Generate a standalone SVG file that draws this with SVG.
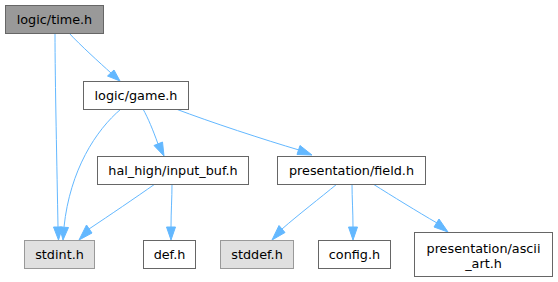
<svg xmlns="http://www.w3.org/2000/svg" width="558" height="282" viewBox="0 0 558 282">
<style>
  .box { fill: #ffffff; stroke: #666666; stroke-width: 1; }
  .root { fill: #999999; stroke: #666666; stroke-width: 1; }
  .sys { fill: #e0e0e0; stroke: #999999; stroke-width: 1; }
  text { font-family: "DejaVu Sans", sans-serif; font-size: 12.8px; fill: #000000; text-anchor: middle; }
  .edge { fill: none; stroke: #63b8ff; stroke-width: 1; }
  .head { fill: #63b8ff; stroke: #63b8ff; stroke-width: 1; }
</style>
<rect width="558" height="282" fill="#ffffff"/>

<g id="edges">
  <!-- logic/time.h -> stdint.h -->
  <path class="edge" d="M55,33 C55,80 57,170 58,227"/>
  <polygon class="head" points="53.5,227 58.5,240 62.5,227"/>
  <!-- logic/time.h -> logic/game.h -->
  <path class="edge" d="M69,33 C80,45 100,63 111,73"/>
  <polygon class="head" points="107.5,76 120,81 114,70"/>
  <!-- logic/game.h -> stdint.h -->
  <path class="edge" d="M121,109 C96,130 70,170 64,227"/>
  <polygon class="head" points="59.5,227 63,240 68.5,227.5"/>
  <!-- logic/game.h -> hal_high/input_buf.h -->
  <path class="edge" d="M143,109 C148,118 153,130 158,144"/>
  <polygon class="head" points="154,145.5 164,156 162.5,142"/>
  <!-- logic/game.h -> presentation/field.h -->
  <path class="edge" d="M176,109 C210,122 265,140 299,150"/>
  <polygon class="head" points="297,154.5 312,155 300,145.5"/>
  <!-- hal_high/input_buf.h -> stdint.h -->
  <path class="edge" d="M155,184 C135,198 110,215 89,229"/>
  <polygon class="head" points="86.5,225 79,240 92,233"/>
  <!-- hal_high/input_buf.h -> def.h -->
  <path class="edge" d="M172,184 C172,198 171,212 171,227"/>
  <polygon class="head" points="166.5,227 171,240 175.5,227"/>
  <!-- presentation/field.h -> stddef.h -->
  <path class="edge" d="M337,184 C320,198 298,215 282,229"/>
  <polygon class="head" points="279,225.5 272,240 285,232.5"/>
  <!-- presentation/field.h -> config.h -->
  <path class="edge" d="M352,184 C352,198 353,212 353,227"/>
  <polygon class="head" points="348.5,227 353,240 357.5,227"/>
  <!-- presentation/field.h -> presentation/ascii_art.h -->
  <path class="edge" d="M373,184 C392,196 418,212 437,223"/>
  <polygon class="head" points="434,227 448,232 439,219"/>
</g>

<g id="node-logic-time-h">
  <rect class="root" x="5.5" y="5.5" width="98" height="28"/>
  <text x="54.5" y="24">logic/time.h</text>
</g>
<g id="node-logic-game-h">
  <rect class="box" x="83.5" y="81.5" width="105" height="28"/>
  <text x="136" y="100">logic/game.h</text>
</g>
<g id="node-hal-high-input-buf-h">
  <rect class="box" x="97.5" y="156.5" width="151" height="28"/>
  <text x="173" y="175">hal_high/input_buf.h</text>
</g>
<g id="node-presentation-field-h">
  <rect class="box" x="277.5" y="156.5" width="148" height="28"/>
  <text x="351.5" y="175">presentation/field.h</text>
</g>
<g id="node-stdint-h">
  <rect class="sys" x="24.5" y="240.5" width="70" height="28"/>
  <text x="59.5" y="259">stdint.h</text>
</g>
<g id="node-def-h">
  <rect class="box" x="143.5" y="240.5" width="52" height="28"/>
  <text x="169.5" y="259">def.h</text>
</g>
<g id="node-stddef-h">
  <rect class="sys" x="220.5" y="240.5" width="73" height="28"/>
  <text x="257" y="259">stddef.h</text>
</g>
<g id="node-config-h">
  <rect class="box" x="318.5" y="240.5" width="72" height="28"/>
  <text x="354.5" y="259">config.h</text>
</g>
<g id="node-presentation-ascii-art-h">
  <rect class="box" x="414.5" y="232.5" width="138" height="44"/>
  <text x="483.5" y="252.5">presentation/ascii</text>
  <text x="483.5" y="267.5">_art.h</text>
</g>
</svg>
